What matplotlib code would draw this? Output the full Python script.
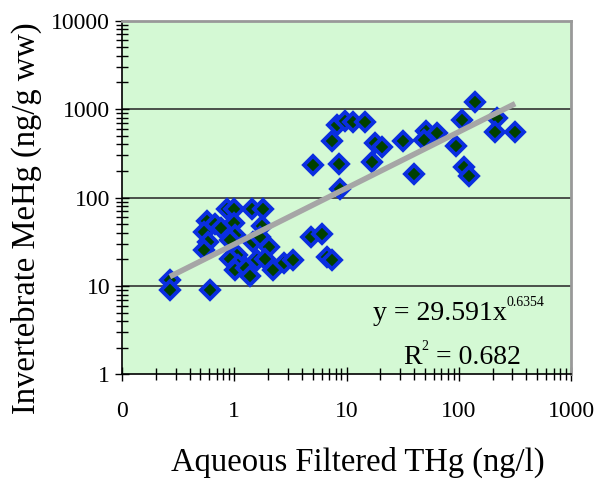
import matplotlib.pyplot as plt
import numpy as np

# data (ng/l, ng/g ww)
thg = [0.267, 0.267, 0.607, 0.866, 1.0, 1.43, 1.80, 0.568, 0.667, 0.766,
       0.535, 0.99, 1.75, 0.587, 0.542, 1.01, 0.91, 1.47, 1.69, 2.05,
       1.05, 0.915, 1.086, 1.01, 1.27, 1.37, 1.60, 1.88, 2.20, 2.76,
       3.36, 4.80, 6.03, 6.70, 7.38, 8.75, 8.23, 9.70, 11.4, 14.6,
       7.47, 5.06, 8.57, 17.9, 20.5, 16.8, 31.7, 51.1, 48.6, 63.7,
       40.2, 94.2, 106, 140, 111, 124, 218, 211, 318]
mehg = [11.7, 9.0, 9.1, 73.8, 74.7, 74.7, 73.8, 54.7, 49.9, 45.8,
        41.1, 52.2, 47.6, 31.2, 25.3, 38.0, 33.1, 31.2, 36.1, 27.8,
        22.4, 20.2, 17.3, 15.2, 15.8, 13.0, 19.5, 20.3, 15.2, 18.2,
        19.7, 36.0, 38.5, 21.4, 19.9, 124.8, 665, 731, 718, 718,
        435, 233, 237, 413, 372, 254, 432, 564, 452, 531,
        186, 385, 752, 1191, 221, 175, 785, 546, 546]

coef = 29.591
power = 0.6354
r2 = 0.682

x_ticks = [0.1, 1, 10, 100, 1000]
x_labels = ["0", "1", "10", "100", "1000"]
y_ticks = [1, 10, 100, 1000, 10000]
y_labels = ["1", "10", "100", "1000", "10000"]

W, H = 602, 479
plt.rcParams['font.family'] = ['Liberation Serif', 'DejaVu Serif']

fig = plt.figure(figsize=(W / 100, H / 100), dpi=100)
ax = fig.add_axes([0.2027, 0.2182, 0.7458, 0.7388])
ax.set_facecolor('#D4F9D4')
ax.set_xscale('log')
ax.set_yscale('log')
ax.set_xlim(0.1, 1000)
ax.set_ylim(1, 10000)

for yv in [10, 100, 1000]:
    ax.axhline(yv, color='#333333', lw=1.2, zorder=1)

ax.plot(thg, mehg, linestyle='none', marker='D', markersize=9.5,
        markerfacecolor='#004000', markeredgecolor='#0A2EE0',
        markeredgewidth=2.8, zorder=3)

xf = np.array([min(thg), max(thg)])
ax.plot(xf, coef * xf ** power, color='#A6A6A6', lw=4, zorder=4,
        solid_capstyle='butt')

ax.set_xticks(x_ticks)
ax.set_xticklabels(x_labels)
ax.set_yticks(y_ticks)
ax.set_yticklabels(y_labels)
ax.tick_params(which='both', direction='inout', labelsize=17, color='black')
ax.tick_params(which='major', length=10, width=1)
ax.tick_params(which='minor', length=8, width=1)
ax.tick_params(axis='x', pad=14)

for side in ['top', 'right']:
    ax.spines[side].set_color('#999999')
    ax.spines[side].set_linewidth(2)
for side in ['left', 'bottom']:
    ax.spines[side].set_color('black')
    ax.spines[side].set_linewidth(1.2)

fig.text(358 / W, 1 - 462 / H, "Aqueous Filtered THg (ng/l)", fontsize=23.5,
         ha='center', va='center')
fig.text(26 / W, 1 - 218 / H, "Invertebrate MeHg (ng/g ww)", fontsize=23.5,
         ha='center', va='center', rotation=90)

# equation and R² with small superscripts, chained left to right
renderer = fig.canvas.get_renderer()


def chain(x, y, parts):
    for s, size, dy in parts:
        t = fig.text(x / W, 1 - (y + dy) / H, s, fontsize=size,
                     ha='left', va='center')
        x = t.get_window_extent(renderer).x1


chain(373, 313, [("y = 29.591x", 20, 0), ("0.6354", 10, -10)])
chain(403, 357, [("R", 20, 0), ("2", 10, -10), (" = 0.682", 20, 0)])

fig.savefig("out.png", dpi=100)
